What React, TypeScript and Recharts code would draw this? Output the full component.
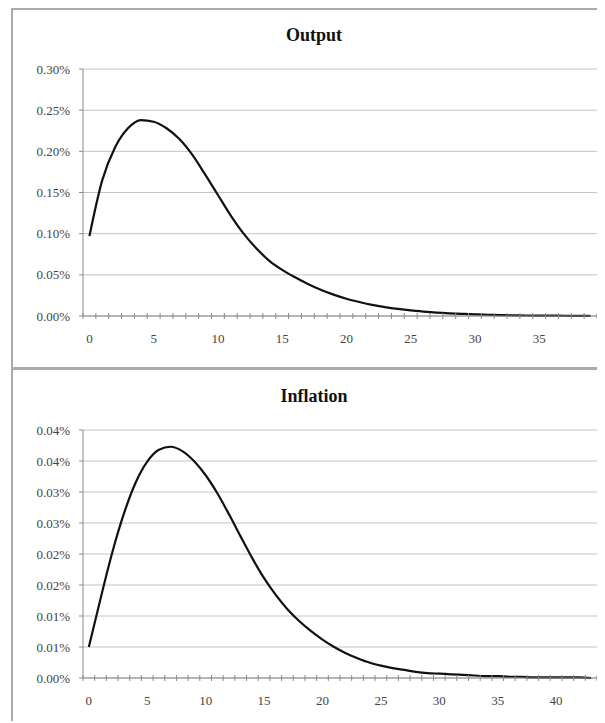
import React from 'react';
import { LineChart, Line, XAxis, YAxis, CartesianGrid } from 'recharts';

// impulse responses, values in percent, one per period
const outputValues = [
  0.097, 0.165, 0.205, 0.228, 0.238, 0.236, 0.228, 0.215, 0.196, 0.172,
  0.147, 0.122, 0.1, 0.082, 0.067, 0.056, 0.047, 0.039, 0.032, 0.026,
  0.021, 0.017, 0.0135, 0.0108, 0.0086, 0.0068, 0.0054, 0.0042, 0.0033, 0.0026,
  0.002, 0.0015, 0.0011, 0.0008, 0.0006, 0.0005, 0.0004, 0.0003, 0.0002, 0.0002,
];

const inflationValues = [
  0.005, 0.0128, 0.0202, 0.0265, 0.0315, 0.0349, 0.0368, 0.0373, 0.0366, 0.035,
  0.0327, 0.0298, 0.0264, 0.0228, 0.0193, 0.0161, 0.0134, 0.0111, 0.0092, 0.0076,
  0.0062, 0.005, 0.004, 0.0032, 0.0025, 0.002, 0.0016, 0.0013, 0.001, 0.0008,
  0.0007, 0.0006, 0.0005, 0.0004, 0.0003, 0.0003, 0.0002, 0.0002, 0.0001, 0.0001,
  0.0001, 0.0001, 0.0001, 0.0,
];

const outputYTicks = [0, 0.05, 0.1, 0.15, 0.2, 0.25, 0.3];
const inflationYTicks = [0, 0.005, 0.01, 0.015, 0.02, 0.025, 0.03, 0.035, 0.04];
const outputXLabels = [0, 5, 10, 15, 20, 25, 30, 35];
const inflationXLabels = [0, 5, 10, 15, 20, 25, 30, 35, 40];

const FONT = '"Liberation Serif", "Times New Roman", serif';
const AXIS = '#8a8a8a';
const TEXT = '#444';

// Excel shows 2 decimals, rounding half up
const fmtPct = (v: number) => (Math.round(v * 100 + 1e-9) / 100).toFixed(2) + '%';

const XTick = (props: any) => {
  const { x, y, payload } = props;
  const v = payload.value;
  if (Number.isInteger(v)) {
    return (
      <text x={x} y={y + 27} textAnchor="middle" fontSize={13} fill={TEXT} fontFamily={FONT}>
        {v}
      </text>
    );
  }
  return <line x1={x} x2={x} y1={y - 3} y2={y + 3} stroke={AXIS} strokeWidth={1} />;
};

interface PanelProps {
  title: string;
  values: number[];
  yTicks: number[];
  xLabels: number[];
  height: number;
  top: number;
  plotHeight: number;
  titleTop: number;
  style: React.CSSProperties;
}

function Panel({ title, values, yTicks, xLabels, height, top, plotHeight, titleTop, style }: PanelProps) {
  const data = values.map((v, i) => ({ t: i, v }));
  const n = values.length;
  const bounds = Array.from({ length: n + 1 }, (_, i) => i - 0.5);
  const xTicks = [...bounds, ...xLabels].sort((a, b) => a - b);
  const xAxisHeight = 30;

  return (
    <div style={{ position: 'relative', width: 600, height, background: '#fff', boxSizing: 'content-box', ...style }}>
      <div
        style={{
          position: 'absolute',
          top: titleTop,
          left: 301,
          transform: 'translateX(-50%)',
          fontFamily: FONT,
          fontWeight: 700,
          fontSize: 18,
          lineHeight: '20px',
          color: '#111',
          whiteSpace: 'nowrap',
        }}
      >
        {title}
      </div>
      <LineChart
        width={592}
        height={height}
        data={data}
        margin={{ top, right: 8, left: 0, bottom: height - top - plotHeight - xAxisHeight }}
      >
        <CartesianGrid vertical={false} stroke="#c4c4c4" />
        <XAxis
          dataKey="t"
          type="number"
          domain={[-0.5, n - 0.5]}
          ticks={xTicks}
          interval={0}
          height={xAxisHeight}
          tickSize={0}
          tickMargin={0}
          tickLine={false}
          axisLine={{ stroke: AXIS }}
          tick={<XTick />}
        />
        <YAxis
          domain={[yTicks[0], yTicks[yTicks.length - 1]]}
          ticks={yTicks}
          interval={0}
          width={70}
          tickSize={4}
          tickMargin={9}
          tickFormatter={fmtPct}
          axisLine={{ stroke: AXIS }}
          tickLine={{ stroke: AXIS }}
          tick={{ fontSize: 13, fill: TEXT, fontFamily: FONT }}
        />
        <Line
          type="monotone"
          dataKey="v"
          stroke="#111"
          strokeWidth={2.2}
          dot={false}
          isAnimationActive={false}
        />
      </LineChart>
    </div>
  );
}

export default function App() {
  return (
    <div style={{ width: 597, height: 715, overflow: 'hidden' }}>
      <div style={{ marginLeft: 3 }}>
        <Panel
          title="Output"
          values={outputValues}
          yTicks={outputYTicks}
          xLabels={outputXLabels}
          height={357}
          top={59}
          plotHeight={247}
          titleTop={15}
          style={{ borderTop: '2px solid #aaa', borderLeft: '2px solid #aaa', borderBottom: '2px solid #aaa' }}
        />
        <Panel
          title="Inflation"
          values={inflationValues}
          yTicks={inflationYTicks}
          xLabels={inflationXLabels}
          height={351}
          top={60}
          plotHeight={248}
          titleTop={16}
          style={{ borderTop: '1px solid #aaa', borderLeft: '2px solid #aaa' }}
        />
      </div>
    </div>
  );
}
